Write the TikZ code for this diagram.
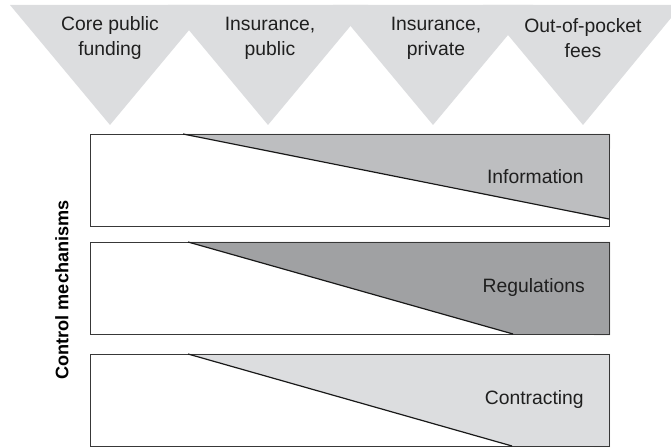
\documentclass[tikz,border=0pt]{standalone}
\usepackage{fontspec}
\setmainfont{Liberation Sans}
\begin{document}
\begin{tikzpicture}[x=0.75pt,y=-0.75pt,
  txt/.style={text=black!88, font=\fontsize{14.5}{18.75}\selectfont, inner sep=0pt, align=center},
  box/.style={draw=black!78, line width=0.9pt, inner sep=0pt, minimum width=519*0.75pt, minimum height=92*0.75pt, anchor=north west},
  diag/.style={draw=black!90, line width=0.9pt},
  tri/.style={fill=tricol, draw=none}]
\definecolor{tricol}{RGB}{220,221,223}
\definecolor{infocol}{RGB}{189,190,192}
\definecolor{regcol}{RGB}{160,161,163}
\definecolor{concol}{RGB}{220,221,223}
\useasboundingbox (0,0) rectangle (671,448);
% funding triangles
\fill[tricol] (10,5) -- (210,5) -- (110,125) -- cycle;
\fill[tricol] (168,5) -- (368,5) -- (268,125) -- cycle;
\fill[tricol] (333,5) -- (533,5) -- (433,125) -- cycle;
\fill[tricol] (483,5) -- (671,5) -- (671,18) -- (583,125) -- cycle;
\node[txt] (t1) at (110,38.5) {Core public\\funding};
\node[txt] (t2) at (270,38.5) {Insurance,\\public};
\node[txt] (t3) at (436,38.5) {Insurance,\\private};
\node[txt] (t4) at (583,38.5) {Out-of-pocket\\fees};
% boxes
\node[box] (b1) at (90,134) {};
\node[box] (b2) at (90,242) {};
\node[box] (b3) at (90,354) {};
% fills and diagonals
\coordinate (d1s) at (183,134);
\coordinate (d1e) at (609,219);
\fill[infocol] (d1s) -- (b1.north east) -- (d1e) -- cycle;
\coordinate (d2s) at (188,242);
\coordinate (d2e) at (513,334);
\fill[regcol] (d2s) -- (b2.north east) -- (b2.south east) -- (d2e) -- cycle;
\coordinate (d3s) at (188,354);
\coordinate (d3e) at (512,446);
\fill[concol] (d3s) -- (b3.north east) -- (b3.south east) -- (d3e) -- cycle;
\node[box] at (90,134) {};
\node[box] at (90,242) {};
\node[box] at (90,354) {};
\draw[diag] (d1s) -- (d1e);
\draw[diag] (d2s) -- (d2e);
\draw[diag] (d3s) -- (d3e);
\node[txt, anchor=east] (l1) at (584,177) {Information};
\node[txt, anchor=east] (l2) at (585,288) {Regulations};
\node[txt, anchor=east] (l3) at (584,400) {Contracting};
\node[txt, text=black, font=\bfseries\fontsize{13.6}{16}\selectfont, rotate=90] (cm) at (62,290) {Control mechanisms};
\end{tikzpicture}
\end{document}
